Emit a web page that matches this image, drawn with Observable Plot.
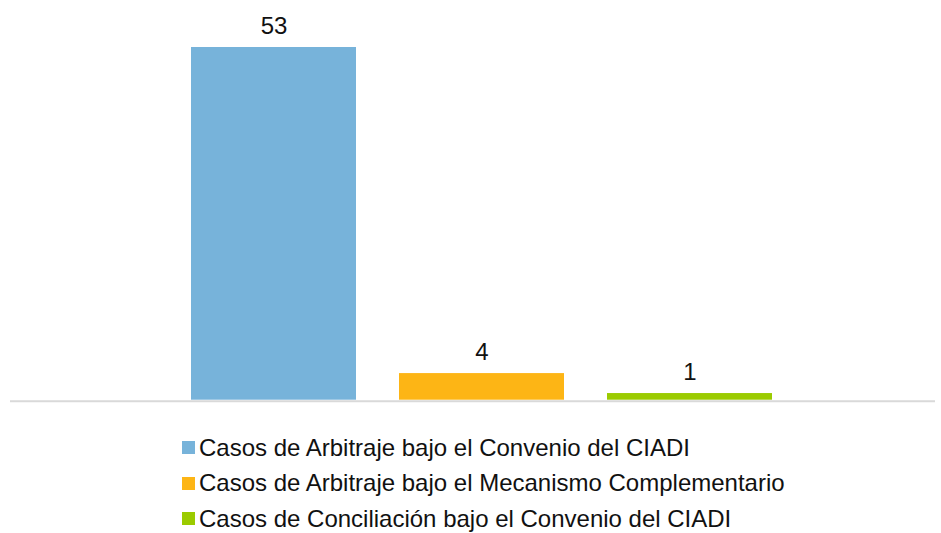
<!DOCTYPE html>
<html>
<head>
<meta charset="utf-8">
<script src="https://cdn.jsdelivr.net/npm/d3@7"></script>
<script src="https://cdn.jsdelivr.net/npm/@observablehq/plot@0.6"></script>
<style>
  html, body { margin: 0; padding: 0; background: #fff; }
  body { width: 941px; height: 533px; overflow: hidden; font-family: "Liberation Sans", Arial, sans-serif; }
  #legend { padding-left: 182px; padding-top: 10px; }
  .row { display: flex; align-items: center; height: 35.5px; font-size: 24px; color: #111; white-space: nowrap; }
  .sw { width: 13px; height: 13px; margin-right: 4px; flex: none; }
</style>
</head>
<body>
<div id="chart"></div>
<div id="legend"></div>
<script>
const categories = [
  "Casos de Arbitraje bajo el Convenio del CIADI",
  "Casos de Arbitraje bajo el Mecanismo Complementario",
  "Casos de Conciliación bajo el Convenio del CIADI"
];
const values = [53, 4, 1];
const colors = ["#77b3da", "#fdb515", "#9bcb00"];

const data = categories.map((c, i) => ({category: c, value: values[i]}));

const chart = Plot.plot({
  width: 941,
  height: 420,
  marginLeft: 10,
  marginRight: 6,
  marginTop: 0,
  marginBottom: 0,
  style: {fontFamily: "'Liberation Sans', Arial, sans-serif", background: "#fff"},
  x: {type: "band", domain: categories, range: [190, 772], paddingInner: 0.2086, paddingOuter: 0, axis: null},
  y: {domain: [0, 53], range: [399.7, 47], axis: null},
  color: {domain: categories, range: colors},
  marks: [
    Plot.barY(data, {x: "category", y: "value", fill: "category"}),
    Plot.ruleY([0], {stroke: "#d9d9d9", strokeWidth: 2, dy: 1}),
    Plot.text(data, {x: "category", y: "value", text: d => String(d.value), lineAnchor: "bottom", dy: -14, fontSize: 24, fill: "#111"})
  ]
});
document.getElementById("chart").appendChild(chart);

const legend = document.getElementById("legend");
categories.forEach((c, i) => {
  const row = document.createElement("div");
  row.className = "row";
  const sw = document.createElement("span");
  sw.className = "sw";
  sw.style.background = colors[i];
  const label = document.createElement("span");
  label.textContent = c;
  row.appendChild(sw);
  row.appendChild(label);
  legend.appendChild(row);
});
</script>
</body>
</html>
